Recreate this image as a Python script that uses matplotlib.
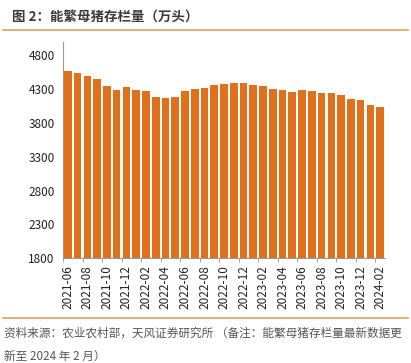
import numpy as np
import matplotlib
matplotlib.use("Agg")
from matplotlib import pyplot as plt
from matplotlib.lines import Line2D

plt.rcParams['font.family'] = ['Noto Sans CJK SC', 'DejaVu Sans']

# breeding sow inventory, 10k head
months = ["2021-06", "2021-07", "2021-08", "2021-09", "2021-10", "2021-11", "2021-12",
          "2022-01", "2022-02", "2022-03", "2022-04", "2022-05", "2022-06", "2022-07",
          "2022-08", "2022-09", "2022-10", "2022-11", "2022-12", "2023-01", "2023-02",
          "2023-03", "2023-04", "2023-05", "2023-06", "2023-07", "2023-08", "2023-09",
          "2023-10", "2023-11", "2023-12", "2024-01", "2024-02"]
sows = [4564, 4539, 4490, 4459, 4348, 4296, 4329,
        4290, 4274, 4185, 4177, 4192, 4277, 4298,
        4324, 4362, 4379, 4394, 4390, 4367, 4343,
        4305, 4284, 4258, 4296, 4270, 4241, 4240,
        4210, 4158, 4142, 4067, 4042]
yticks = [1800, 2300, 2800, 3300, 3800, 4300, 4800]

title = "图 2：能繁母猪存栏量（万头）"
note1 = "资料来源：农业农村部，天风证券研究所 （备注：能繁母猪存栏量最新数据更"
note2 = "新至 2024 年 2 月）"

W, H = 411, 363
fig = plt.figure(figsize=(W/100, H/100), dpi=100)
ax = fig.add_axes([63/W, 1-258/H, (385-63)/W, (258-42)/H])

x = np.arange(len(months))
ax.bar(x, sows, width=0.78, color="#E0701B", zorder=2)

ax.set_xlim(-0.5, len(months)-0.5)
ax.set_ylim(1800, 5000)
ax.set_yticks(yticks)
ax.tick_params(axis="y", length=0, labelsize=8.5, pad=6, labelcolor="#222222")

ax.set_xticks(x[::2])
ax.set_xticklabels(months[::2], rotation=90, fontsize=8.5, color="#222222")
ax.tick_params(axis="x", which="major", length=0, pad=5)
ax.set_xticks(x[::2]-0.5, minor=True)
ax.tick_params(axis="x", which="minor", length=3, color="#999999")

for s in ["top", "right"]:
    ax.spines[s].set_visible(False)
ax.spines["left"].set_color("#999999")
ax.spines["bottom"].set_color("#999999")

fig.text(12/W, 1-17/H, title, fontsize=9.7, fontweight="bold", color="#3a3a3a", va="center")
fig.add_artist(Line2D([3/W, 408/W], [1-30/H, 1-30/H], color="#E3A05E", lw=1.2))
fig.add_artist(Line2D([3/W, 408/W], [1-318/H, 1-318/H], color="#E3A05E", lw=1.2))
fig.text(4/W, 1-333/H, note1, fontsize=8.4, color="#555555", va="center")
fig.text(4/W, 1-356/H, note2, fontsize=8.4, color="#555555", va="center")

fig.savefig("out.png", dpi=100)
